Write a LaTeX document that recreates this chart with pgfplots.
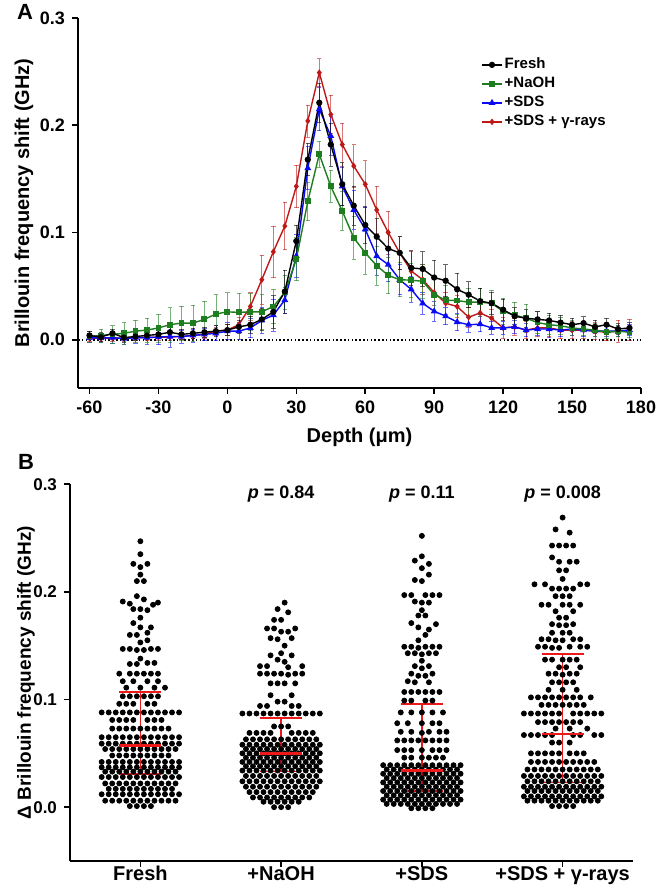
\documentclass[border=0pt]{standalone}
\usepackage{pgfplots}
\pgfplotsset{compat=1.18}
\usepackage{pgfplotstable}
\usepackage{fontspec}
\setmainfont{Liberation Sans}
\definecolor{cN}{RGB}{30,125,30}
\definecolor{cS}{RGB}{10,10,245}
\definecolor{cR}{RGB}{190,25,25}
\definecolor{mred}{RGB}{235,25,25}
\newcommand\tl{\fontsize{9}{10}\selectfont\bfseries}
\newcommand\tlb{\fontsize{8.5}{10}\selectfont\bfseries}
\newcommand\lbl{\fontsize{10}{12}\selectfont\bfseries}

\pgfplotstableread{
x f ef n en s es r er
-60 .004 .004 .003 .005 .002 .004 .0015 .003
-55 .0025 .004 .004 .006 .0015 .004 .0015 .003
-50 .006 .004 .005 .008 .002 .005 .0015 .003
-45 .002 .004 .006 .010 .001 .005 .0015 .003
-40 .003 .004 .008 .010 .002 .005 .002 .003
-35 .004 .004 .009 .011 .002 .006 .002 .003
-30 .005 .004 .011 .013 .0025 .007 .0025 .003
-25 .007 .005 .014 .016 .003 .010 .0025 .003
-20 .005 .005 .0155 .016 .003 .006 .003 .003
-15 .006 .005 .0155 .017 .004 .006 .004 .003
-10 .007 .005 .019 .017 .005 .006 .005 .004
-5 .008 .005 .024 .018 .006 .007 .008 .004
0 .009 .005 .026 .018 .008 .008 .009 .005
5 .012 .006 .0255 .018 .008 .008 .014 .007
10 .014 .008 .026 .017 .011 .009 .031 .013
15 .019 .010 .026 .016 .018 .012 .056 .023
20 .026 .015 .031 .016 .023 .015 .082 .024
25 .045 .020 .044 .016 .037 .012 .106 .022
30 .092 .015 .075 .020 .078 .020 .143 .020
35 .168 .015 .129 .018 .160 .020 .204 .015
40 .221 .018 .173 .012 .215 .020 .249 .013
45 .182 .020 .143 .015 .190 .018 .210 .018
50 .145 .020 .120 .018 .143 .018 .182 .020
55 .125 .018 .095 .020 .121 .018 .162 .020
60 .107 .017 .081 .020 .103 .020 .145 .022
65 .096 .017 .069 .018 .078 .018 .121 .022
70 .085 .016 .060 .017 .070 .016 .100 .020
75 .081 .015 .056 .016 .056 .014 .081 .015
80 .067 .016 .0555 .016 .047 .012 .064 .018
85 .066 .016 .0545 .016 .034 .010 .056 .014
90 .058 .016 .042 .015 .0265 .009 .044 .012
95 .055 .015 .037 .014 .022 .008 .034 .010
100 .047 .015 .0365 .013 .0165 .008 .031 .010
105 .042 .012 .035 .013 .014 .007 .021 .009
110 .036 .012 .035 .013 .0145 .007 .025 .009
115 .034 .010 .034 .012 .011 .006 .020 .008
120 .028 .010 .0265 .012 .011 .006 .011 .010
125 .022 .008 .023 .012 .012 .006 .012 .008
130 .020 .008 .020 .013 .009 .006 .009 .008
135 .019 .007 .016 .010 .010 .006 .011 .008
140 .018 .007 .014 .009 .010 .008 .011 .008
145 .016 .007 .013 .008 .009 .006 .009 .008
150 .014 .006 .011 .007 .010 .006 .009 .008
155 .0155 .006 .010 .006 .009 .006 .009 .008
160 .012 .006 .009 .006 .008 .005 .008 .008
165 .014 .006 .007 .006 .008 .005 .007 .008
170 .010 .005 .008 .005 .008 .005 .008 .010
175 .011 .005 .007 .005 .009 .005 .009 .010
}\dataA

\pgfplotsset{
  ebar/.style={/pgfplots/error bars/y dir=both, /pgfplots/error bars/y explicit,
    /pgfplots/error bars/error bar style={line width=0.35pt, opacity=0.6},
    /pgfplots/error bars/error mark options={rotate=90, mark size=1.1pt, line width=0.35pt, opacity=0.6}},
  dots/.style={only marks, mark=*, mark size=1.25pt, black},
  common/.style={scale only axis, axis lines=left, axis line style={-, line width=0.8pt},
    tick align=outside, major tick length=3pt, tick style={black, line width=0.8pt},
    /pgf/number format/assume math mode=true, tick label style={font=\tl},
    label style={font=\lbl},
    yticklabel style={/pgf/number format/fixed, /pgf/number format/fixed zerofill, /pgf/number format/precision=1},
    ytick={0,0.1,0.2,0.3}}
}

\begin{document}
\begin{tikzpicture}
\path[use as bounding box] (0,0) rectangle (330.5pt,444pt);
\node[font=\fontsize{11}{12}\selectfont\bfseries] at (12.5pt,438pt) {A};
\node[font=\fontsize{11}{12}\selectfont\bfseries] at (13pt,213pt) {B};

\begin{axis}[common,
  at={(39pt,250pt)}, anchor=south west, width=281.5pt, height=185pt,
  xmin=-65, xmax=180, ymin=-0.045, ymax=0.3,
  xtick={-60,-30,...,180},
  xlabel={Depth (μm)}, ylabel={Brillouin frequency shift (GHz)},
  xlabel style={at={(axis description cs:0.5,-0.133)}, anchor=center},
  ylabel style={at={(axis description cs:-0.096,0.5)}, anchor=center},
  reverse legend, legend cell align=left,
  legend style={at={(0.705,0.91)}, anchor=north west, draw=none, fill=none,
    font=\fontsize{7.5}{9}\selectfont\bfseries, row sep=0.3pt,
    nodes={inner sep=1pt, text depth=1.6pt, text height=5.6pt}},
  legend image code/.code={\draw[mark repeat=2,mark phase=2,#1] plot coordinates {(0pt,0pt) (5pt,0pt) (10pt,0pt)};}
]
\addplot[black, dash pattern=on 0.8pt off 1.1pt, line width=0.8pt, forget plot] coordinates {(-65,0) (180,0)};
\addplot[cR, line width=0.7pt, mark=diamond*, mark size=1.1pt, mark options={solid}, ebar] table[x=x,y=r,y error=er]{\dataA};
\addlegendentry{+SDS + γ-rays}
\addplot[cS, line width=0.7pt, mark=triangle*, mark size=1.3pt, mark options={solid}, ebar] table[x=x,y=s,y error=es]{\dataA};
\addlegendentry{+SDS}
\addplot[cN, line width=0.7pt, mark=square*, mark size=1.1pt, mark options={solid}, ebar] table[x=x,y=n,y error=en]{\dataA};
\addlegendentry{+NaOH}
\addplot[black, line width=0.7pt, mark=*, mark size=1.2pt, mark options={solid}, ebar] table[x=x,y=f,y error=ef]{\dataA};
\addlegendentry{Fresh}
\end{axis}

\begin{axis}[common,
  at={(35pt,13.5pt)}, anchor=south west, width=281.5pt, height=188.4pt,
  xmin=-0.5, xmax=3.5, ymin=-0.05, ymax=0.3,
  xtick={0,1,2,3}, xticklabels={Fresh,+NaOH,+SDS,+SDS + γ-rays},
  xticklabel style={font=\lbl, yshift=4pt},
  yticklabel style={font=\tlb},
  ylabel={Δ Brillouin frequency shift (GHz)},
  ylabel style={font=\fontsize{9.5}{11}\selectfont\bfseries, at={(axis description cs:-0.078,0.5)}, anchor=center}
]
% Fresh
\addplot[dots, x filter/.expression={x*0.05}] coordinates {
(0,.247)
(0,.235)
(-1,.226)(1,.226)(0,.223)
(0,.216)
(-0.5,.210)(0.5,.210)
(-0.5,.196)(0.5,.193)(-2.5,.191)(2.5,.190)(-1.5,.189)
(-1,.184)(0,.184)(1,.183)(1.8,.188)
(0,.176)
(-1,.171)(0,.167)(1.5,.167)(1,.162)
(-1.5,.160)(-0.5,.160)
(1,.155)(0,.153)
(-2.5,.147)(-1.5,.147)(-0.5,.146)(0.5,.146)(1.5,.147)(2.5,.147)
(0,.138)
(-1.5,.133)(-0.5,.133)(1,.134)(2,.134)
(-3,.124)(-1.5,.124)(-0.5,.124)(0.5,.124)(1.5,.124)(2.5,.124)
(-2.5,.117)(-1,.117)(1,.117)(2.5,.117)
(-2,.111)(0,.111)(2,.111)(3.5,.111)
(-2.5,.103)(-1.5,.103)(-0.5,.103)(0.5,.103)(1.5,.103)(2.5,.103)
(-3,.096)(-2,.096)(-1,.096)(1,.096)(2,.096)
(-5.5,.088)(-4.5,.088)(-3.5,.088)(-2.5,.088)(-1.5,.088)(-0.5,.088)(0.5,.088)(1.5,.088)(2.5,.088)(3.5,.088)(4.5,.088)(5.5,.088)
(-4,.081)(-3,.081)(-2,.081)(-1,.081)(1,.081)(2,.081)(3,.081)
(-4,.073)(-3,.073)(-2,.073)(-1,.073)(0,.073)(1,.073)(2,.073)(3,.073)(4,.073)
(-5.5,.065)(-4.5,.065)(-3.5,.065)(-2.5,.065)(-1.5,.065)(-0.5,.065)(0.5,.065)(1.5,.065)(2.5,.065)(3.5,.065)(4.5,.065)(5.5,.065)
(-5.5,.059)(-4.5,.059)(-3.5,.059)(-2.5,.059)(-1.5,.059)(-0.5,.059)(0.5,.059)(1.5,.059)(2.5,.059)(3.5,.059)(4.5,.059)(5.5,.059)
(-5,.054)(-4,.054)(-3,.054)(-2,.054)(-1,.054)(0,.054)(1,.054)(2,.054)(3,.054)(4,.054)(5,.054)
(-4,.048)(-3,.048)(-2,.048)(-1,.048)(0,.048)(1,.048)(2,.048)(3,.048)(4,.048)
(-5.5,.042)(-4.5,.042)(-3.5,.042)(-2.5,.042)(-1.5,.042)(-0.5,.042)(0.5,.042)(1.5,.042)(2.5,.042)(3.5,.042)(4.5,.042)(5.5,.042)
(-5.5,.037)(-4.5,.037)(-3.5,.037)(-2.5,.037)(-1.5,.037)(-0.5,.037)(0.5,.037)(1.5,.037)(2.5,.037)(3.5,.037)(4.5,.037)(5.5,.037)
(-5,.033)(-4,.033)(-3,.033)(-2,.033)(-1,.033)(0,.033)(1,.033)(2,.033)(3,.033)(4,.033)(5,.033)
(-5.5,.028)(-4.5,.028)(-3.5,.028)(-2.5,.028)(-1.5,.028)(-0.5,.028)(0.5,.028)(1.5,.028)(2.5,.028)(3.5,.028)(4.5,.028)(5.5,.028)
(-5,.022)(-4,.022)(-3,.022)(-2,.022)(-1,.022)(0,.022)(1,.022)(2,.022)(3,.022)(4,.022)(5,.022)
(-4.5,.017)(-3.5,.017)(-2.5,.017)(-1.5,.017)(-0.5,.017)(0.5,.017)(1.5,.017)(2.5,.017)(3.5,.017)(4.5,.017)
(-5.5,.012)(-4.5,.012)(-3.5,.012)(-2.5,.012)(-1.5,.012)(-0.5,.012)(0.5,.012)(1.5,.012)(2.5,.012)(3.5,.012)(4.5,.012)(5.5,.012)
(-5,.006)(-4,.006)(-3,.006)(-2,.006)(-1,.006)(0,.006)(1,.006)(2,.006)(3,.006)(4,.006)(5,.006)
(-1.5,.001)(-0.5,.001)(0.5,.001)(1.5,.001)
};
% NaOH
\addplot[dots, x filter/.expression={x*0.05+1}] coordinates {
(0.5,.190)
(-0.5,.184)
(1,.181)
(-1,.174)(0,.174)
(-2,.166)(-1,.166)(2,.166)
(0,.163)(1,.163)
(-1.5,.157)(1.5,.157)(-0.5,.156)
(0.5,.150)
(0,.143)
(-1.5,.141)(1.5,.141)
(-0.5,.137)(0.5,.135)
(-3,.131)(-2,.131)(1,.130)(3,.131)
(-3,.124)(-2,.124)(-1,.124)(0,.124)(1,.123)(2,.124)(3,.124)
(-1.5,.115)(-0.5,.115)(0.5,.115)(2,.115)
(-1.5,.104)(1.5,.104)
(-0.5,.098)(0.5,.098)
(-3,.094)(-2,.094)(1.5,.094)(2.5,.094)
(-5.5,.087)(-4.5,.087)(-3.5,.087)(-2.5,.087)(-1.5,.087)(-0.5,.087)(0.5,.087)(1.5,.087)(2.5,.087)(3.5,.087)(4.5,.087)(5.5,.087)
(-1,.075)(0,.075)(1,.075)
(-4.5,.069)(-3.5,.069)(-2.5,.069)(-1.5,.069)(1.5,.069)(2.5,.069)(3.5,.069)(4.5,.069)
(-5,.063)(-4,.063)(-3,.063)(-2,.063)(-1,.063)(0,.063)(1,.063)(2,.063)(3,.063)(4,.063)(5,.063)
(-5.5,.058)(-4.5,.058)(-3.5,.058)(-2.5,.058)(-1.5,.058)(-0.5,.058)(0.5,.058)(1.5,.058)(2.5,.058)(3.5,.058)(4.5,.058)(5.5,.058)
(-5,.054)(-4,.054)(-3,.054)(-2,.054)(-1,.054)(0,.054)(1,.054)(2,.054)(3,.054)(4,.054)(5,.054)
(-5.5,.050)(-4.5,.050)(-3.5,.050)(-2.5,.050)(-1.5,.050)(-0.5,.050)(0.5,.050)(1.5,.050)(2.5,.050)(3.5,.050)(4.5,.050)(5.5,.050)
(-5,.046)(-4,.046)(-3,.046)(-2,.046)(-1,.046)(0,.046)(1,.046)(2,.046)(3,.046)(4,.046)(5,.046)
(-5.5,.042)(-4.5,.042)(-3.5,.042)(-2.5,.042)(-1.5,.042)(-0.5,.042)(0.5,.042)(1.5,.042)(2.5,.042)(3.5,.042)(4.5,.042)(5.5,.042)
(-5,.038)(-4,.038)(-3,.038)(-2,.038)(-1,.038)(0,.038)(1,.038)(2,.038)(3,.038)(4,.038)(5,.038)
(-5.5,.034)(-4.5,.034)(-3.5,.034)(-2.5,.034)(-1.5,.034)(-0.5,.034)(0.5,.034)(1.5,.034)(2.5,.034)(3.5,.034)(4.5,.034)(5.5,.034)
(-5,.029)(-4,.029)(-3,.029)(-2,.029)(-1,.029)(0,.029)(1,.029)(2,.029)(3,.029)(4,.029)(5,.029)
(-5.5,.024)(-4.5,.024)(-3.5,.024)(-2.5,.024)(-1.5,.024)(-0.5,.024)(0.5,.024)(1.5,.024)(2.5,.024)(3.5,.024)(4.5,.024)(5.5,.024)
(-5,.019)(-4,.019)(-3,.019)(-2,.019)(-1,.019)(0,.019)(1,.019)(2,.019)(3,.019)(4,.019)(5,.019)
(-4.5,.014)(-3.5,.014)(-2.5,.014)(-1.5,.014)(-0.5,.014)(0.5,.014)(1.5,.014)(2.5,.014)(3.5,.014)(4.5,.014)
(-4,.009)(-3,.009)(-2,.009)(-1,.009)(0,.009)(1,.009)(2,.009)(3,.009)(4,.009)
(-2.5,.005)(-1.5,.005)(-0.5,.005)(0.5,.005)(1.5,.005)(2.5,.005)
(-1,.000)(0,.000)(1,.000)
};
% SDS
\addplot[dots, x filter/.expression={x*0.05+2}] coordinates {
(0,.252)
(0,.233)(-1,.229)(1,.226)(0,.222)
(1,.216)
(-1,.211)(0,.210)
(-2.5,.197)(-1.5,.197)(0.5,.197)(1.5,.197)(2.5,.197)
(-1,.191)(0,.190)(1,.190)
(0,.183)
(-0.5,.178)(0.5,.178)
(-1.5,.171)(2,.170)(-0.5,.167)(1,.165)(0.5,.160)
(-0.5,.155)
(-2.5,.149)(-1.5,.149)(-0.5,.148)(0.5,.149)(1.5,.149)(2.5,.149)
(-2,.143)(-1,.143)(0,.142)(1,.143)(2,.143)
(0,.136)
(-1,.131)(0,.129)(1,.131)
(-1.5,.124)(-0.5,.122)(0.5,.122)(1.5,.124)
(-2,.117)(-1,.116)(1,.116)
(-2.5,.107)(-1.5,.107)(-0.5,.107)(0.5,.107)(1.5,.107)(2.5,.107)
(-2.5,.099)(-1.5,.099)(0.5,.099)(1.5,.099)
(-3,.088)(-1.5,.088)(0,.088)(1.5,.088)(3,.088)
(-3.5,.078)(-2,.078)(0,.078)(1.5,.078)(2.5,.078)
(-3,.070)(-1.5,.070)(0,.069)(1,.070)(2.5,.070)(3.5,.070)
(-3.5,.062)(-2.5,.062)(-1.5,.062)(-0.5,.062)(0.5,.062)(1.5,.062)(2.5,.062)(3.5,.062)
(-3.5,.053)(-2.5,.053)(-1.5,.053)(0,.053)(1.5,.053)(2.5,.053)(3.5,.053)
(-2.5,.046)(-1.5,.046)(0,.046)(1,.046)(2,.046)(3,.046)
(-5.5,.039)(-4.5,.039)(-3.5,.039)(-2.5,.039)(-1.5,.039)(-0.5,.039)(0.5,.039)(1.5,.039)(2.5,.039)(3.5,.039)(4.5,.039)(5.5,.039)
(-5,.035)(-4,.035)(-3,.035)(-2,.035)(-1,.035)(0,.035)(1,.035)(2,.035)(3,.035)(4,.035)(5,.035)
(-5.5,.031)(-4.5,.031)(-3.5,.031)(-2.5,.031)(-1.5,.031)(-0.5,.031)(0.5,.031)(1.5,.031)(2.5,.031)(3.5,.031)(4.5,.031)(5.5,.031)
(-5,.027)(-4,.027)(-3,.027)(-2,.027)(-1,.027)(0,.027)(1,.027)(2,.027)(3,.027)(4,.027)(5,.027)
(-5.5,.023)(-4.5,.023)(-3.5,.023)(-2.5,.023)(-1.5,.023)(-0.5,.023)(0.5,.023)(1.5,.023)(2.5,.023)(3.5,.023)(4.5,.023)(5.5,.023)
(-5,.019)(-4,.019)(-3,.019)(-2,.019)(-1,.019)(0,.019)(1,.019)(2,.019)(3,.019)(4,.019)(5,.019)
(-5.5,.015)(-4.5,.015)(-3.5,.015)(-2.5,.015)(-1.5,.015)(-0.5,.015)(0.5,.015)(1.5,.015)(2.5,.015)(3.5,.015)(4.5,.015)(5.5,.015)
(-5,.011)(-4,.011)(-3,.011)(-2,.011)(-1,.011)(0,.011)(1,.011)(2,.011)(3,.011)(4,.011)(5,.011)
(-5.5,.007)(-4.5,.007)(-3.5,.007)(-2.5,.007)(-1.5,.007)(-0.5,.007)(0.5,.007)(1.5,.007)(2.5,.007)(3.5,.007)(4.5,.007)(5.5,.007)
(-5,.003)(-4,.003)(-3,.003)(-2,.003)(-1,.003)(0,.003)(1,.003)(2,.003)(3,.003)(4,.003)(5,.003)
(-1.5,-.001)(-0.5,-.001)(0.5,-.001)(1.5,-.001)
};
% SDS + gamma
\addplot[dots, x filter/.expression={x*0.05+3}] coordinates {
(0,.269)
(-1,.258)(1,.255)
(-1.5,.243)(-0.5,.243)(0.5,.243)(1.5,.243)
(-1.5,.232)(-0.5,.228)(1,.228)(2,.228)
(-0.5,.220)(0.5,.220)
(0,.212)
(-4,.207)(-2.5,.207)(2.5,.207)(3.5,.207)
(-1.5,.203)(-0.5,.203)(0.5,.203)(1.5,.203)
(-1,.196)(0,.196)(1,.196)
(-3,.188)(-2,.188)(0,.188)(1,.188)(2.5,.188)
(-1,.182)(1.5,.182)
(-0.5,.176)(0.5,.176)
(-1.5,.170)(-0.5,.169)(0.5,.169)(1.5,.170)
(-1.5,.162)(0,.162)(1,.162)
(-3,.156)(-2,.156)(-1,.155)(0,.155)(1.5,.156)(2.5,.156)
(-3.5,.149)(-2.5,.149)(-1.5,.148)(-0.5,.148)(1,.149)(2.5,.149)(3.5,.149)
(-2.5,.137)(-1.5,.137)(0,.137)(1,.137)(2,.137)
(-0.5,.130)(0.5,.130)(2.5,.130)
(-2,.124)(-1,.124)(0,.123)(1,.124)(2,.124)
(-1.5,.116)(-0.5,.116)(0.5,.116)(1.5,.116)
(-2,.109)(0,.109)(2,.109)
(-4.5,.102)(-3.5,.102)(-2.5,.102)(-1.5,.102)(-0.5,.102)(0.5,.102)(1.5,.102)(2.5,.102)(4,.102)
(-3,.095)(-2,.095)(-1,.095)(0,.095)(1,.095)(2,.095)(3,.095)
(-5.5,.087)(-4.5,.087)(-3.5,.087)(-2.5,.087)(-1.5,.087)(-0.5,.087)(1.5,.087)(2.5,.087)(3.5,.087)(4.5,.087)(5.5,.087)
(-3.5,.079)(-2.5,.079)(-1.5,.079)(-0.5,.079)(0.5,.079)(1.5,.079)(2.5,.079)
(-1,.073)(1,.073)(3.5,.073)
(-5.5,.067)(-4.5,.067)(-3.5,.067)(-2.5,.067)(-1.5,.067)(1.5,.067)(2.5,.067)(4.5,.067)(5.5,.067)
(-1.5,.060)(-0.5,.060)(1,.060)
(-4.5,.050)(-3.5,.050)(-2.5,.050)(-1.5,.050)(-0.5,.050)(1,.050)(2,.050)(3,.050)
(-4.5,.042)(-3.5,.042)(-2.5,.042)(-1.5,.042)(-0.5,.042)(0.5,.042)(1.5,.042)(2.5,.042)(3.5,.042)(4.5,.042)
(-5,.035)(-4,.035)(-3,.035)(-2,.035)(-1,.035)(0,.035)(1,.035)(2,.035)(3,.035)(4,.035)(5,.035)
(-5.5,.029)(-4.5,.029)(-3.5,.029)(-2.5,.029)(-1.5,.029)(-0.5,.029)(0.5,.029)(1.5,.029)(2.5,.029)(3.5,.029)(4.5,.029)(5.5,.029)
(-5,.024)(-4,.024)(-3,.024)(-2,.024)(-1,.024)(0,.024)(1,.024)(2,.024)(3,.024)(4,.024)(5,.024)
(-5.5,.019)(-4.5,.019)(-3.5,.019)(-2.5,.019)(-1.5,.019)(-0.5,.019)(0.5,.019)(1.5,.019)(2.5,.019)(3.5,.019)(4.5,.019)(5.5,.019)
(-5,.015)(-4,.015)(-3,.015)(-2,.015)(-1,.015)(0,.015)(1,.015)(2,.015)(3,.015)(4,.015)(5,.015)
(-5.5,.010)(-4.5,.010)(-3.5,.010)(-2.5,.010)(-1.5,.010)(-0.5,.010)(0.5,.010)(1.5,.010)(2.5,.010)(3.5,.010)(4.5,.010)(5.5,.010)
(-5,.006)(-4,.006)(-3,.006)(-2,.006)(-1,.006)(0,.006)(1,.006)(2,.006)(3,.006)(4,.006)(5,.006)
(-1.5,.001)(-0.5,.001)(0.5,.001)(1.5,.001)
};
% median and interquartile range
\addplot[mred, only marks, mark=-, mark size=10.5pt, mark options={line width=1.4pt},
  error bars/.cd, y dir=both, y explicit,
  error bar style={line width=0.7pt, mred},
  error mark options={rotate=90, mark size=10.5pt, line width=0.8pt, mred}]
  coordinates {
  (0,0.057) += (0,0.050) -= (0,0.026)
  (1,0.050) += (0,0.033) -= (0,0.017)
  (2,0.034) += (0,0.062) -= (0,0.019)
  (3,0.068) += (0,0.074) -= (0,0.045)
  };
\node[font=\tl] at (axis cs:1,0.291) {\textit{p} = 0.84};
\node[font=\tl] at (axis cs:2,0.291) {\textit{p} = 0.11};
\node[font=\tl] at (axis cs:3,0.291) {\textit{p} = 0.008};
\end{axis}
\end{tikzpicture}
\end{document}
